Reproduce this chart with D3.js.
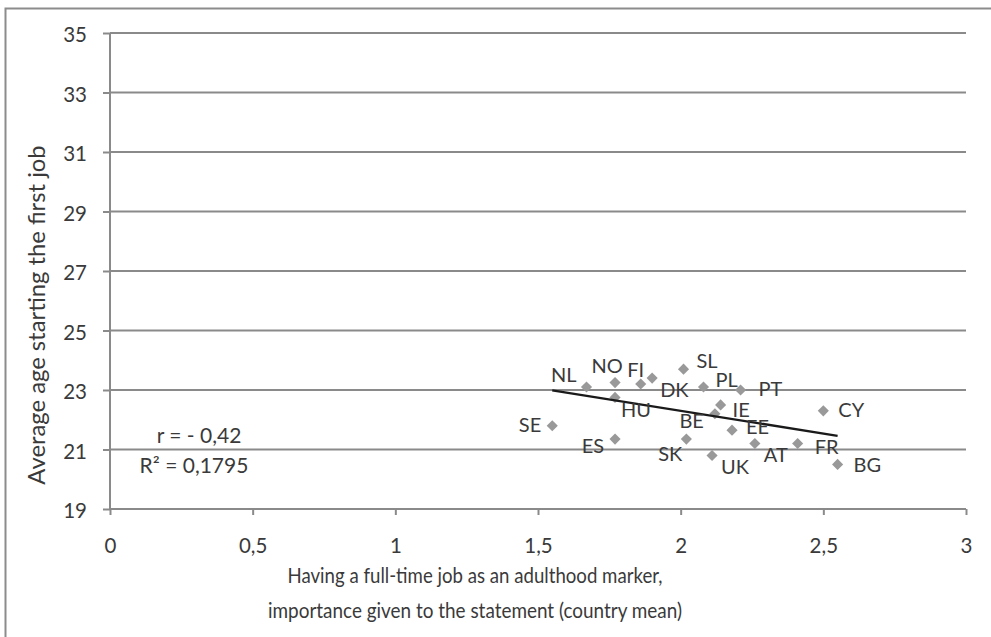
<!DOCTYPE html>
<html><head><meta charset="utf-8">
<script src="https://cdn.jsdelivr.net/npm/d3@7"></script>
<style>
html,body{margin:0;padding:0;background:#fff;}
text{font-family:Lato,"Liberation Sans",Arial,sans-serif;fill:#3a3a3a;}
</style></head>
<body>
<svg id="chart" width="991" height="637"></svg>
<script>
// ---- data ----
const countries = ["SE","ES","NL","NO","HU","FI","DK","SL","PL","IE","BE","SK","UK","PT","EE","AT","FR","CY","BG"];
const xValues   = [1.55,1.77,1.67,1.77,1.77,1.86,1.90,2.01,2.08,2.14,2.12,2.02,2.11,2.21,2.18,2.26,2.41,2.50,2.55];
const yValues   = [21.8,21.35,23.1,23.25,22.75,23.2,23.4,23.7,23.1,22.5,22.2,21.35,20.8,23.0,21.65,21.2,21.2,22.3,20.5];
const xTicks = [0,0.5,1,1.5,2,2.5,3];
const yTicks = [19,21,23,25,27,29,31,33,35];
const xTitle = ["Having a full-time job as an adulthood marker,","importance given to the statement (country mean)"];
const yTitle = "Average age starting the first job";
const statsText = ["r = - 0,42","R² = 0,1795"];

// label placement (presentation only): [dx, dy, anchor]
const labelPlacement = {
  SE:[-11,6,"end"], ES:[-11,14,"end"], NL:[-10,-5,"end"], NO:[-8,-10,"middle"],
  HU:[6,20,"start"], FI:[-5,-7,"middle"], DK:[8,19,"start"], SL:[13,-1,"start"],
  PL:[12,0,"start"], IE:[12,12,"start"], BE:[-11,14,"end"], SK:[-4,22,"end"],
  UK:[9,19,"start"], PT:[18,6,"start"], EE:[14,4,"start"], AT:[9,18,"start"],
  FR:[17,10,"start"], CY:[15,6,"start"], BG:[16,8,"start"]
};

const svg = d3.select("#chart");
const m = {left:110, right:25, top:33, bottom:128};
const W = 991, H = 637;
const x = d3.scaleLinear().domain([0,3]).range([m.left, W - m.right]);
const y = d3.scaleLinear().domain([19,35]).range([H - m.bottom, m.top]);
const FONT = "Lato,'Liberation Sans',Arial,sans-serif";

// outer frame
svg.append("path").attr("d", `M5.5,637 V8.5 H991`).attr("fill","none").attr("stroke","#8c8c8c").attr("stroke-width",2);

// gridlines
svg.append("g").selectAll("line").data(yTicks.slice(1)).join("line")
  .attr("x1", x(0)).attr("x2", x(3)).attr("y1", d=>y(d)).attr("y2", d=>y(d))
  .attr("stroke","#8a8a8a").attr("stroke-width",2);

// axes
const fmt = d => String(d).replace(".", ",");
const xAxis = svg.append("g").attr("transform",`translate(0,${y(19)})`)
  .call(d3.axisBottom(x).tickValues(xTicks).tickFormat(fmt).tickSize(6).tickPadding(23));
const yAxis = svg.append("g").attr("transform",`translate(${x(0)},0)`)
  .call(d3.axisLeft(y).tickValues(yTicks).tickSize(7).tickPadding(16));
[xAxis,yAxis].forEach(a=>{
  a.select(".domain").attr("stroke","#8a8a8a").attr("stroke-width",2);
  a.selectAll(".tick line").attr("stroke","#8a8a8a").attr("stroke-width",2);
  a.selectAll(".tick text").style("font-size","20.5px").attr("fill","#3a3a3a")
   .style("font-family",FONT);
});
yAxis.selectAll(".tick text").attr("dy","0.42em");
yAxis.select(".domain").attr("d", `M0,${y(19)}V${y(35)}`);
xAxis.select(".domain").attr("d", `M${x(0)},0H${x(3)}`);

// points (diamonds = squares rotated 45deg)
const pts = countries.map((c,i)=>({c, x:xValues[i], y:yValues[i]}));
const sym = d3.symbol().type(d3.symbolSquare).size(62);
svg.append("g").selectAll("path").data(pts).join("path")
  .attr("d", sym).attr("transform", d=>`translate(${x(d.x)},${y(d.y)}) rotate(45)`)
  .attr("fill","#999999");

// trendline (least squares)
const mx = d3.mean(xValues), my = d3.mean(yValues);
const slope = d3.sum(xValues.map((v,i)=>(v-mx)*(yValues[i]-my))) / d3.sum(xValues.map(v=>(v-mx)*(v-mx)));
const icpt = my - slope*mx;
const [x0,x1] = d3.extent(xValues);
svg.append("line").attr("x1",x(x0)).attr("x2",x(x1)).attr("y1",y(icpt+slope*x0)).attr("y2",y(icpt+slope*x1))
  .attr("stroke","#1a1a1a").attr("stroke-width",2.4);

// labels
svg.append("g").selectAll("text").data(pts).join("text")
  .attr("x", d=>x(d.x)+labelPlacement[d.c][0])
  .attr("y", d=>y(d.y)+labelPlacement[d.c][1])
  .attr("text-anchor", d=>labelPlacement[d.c][2])
  .style("font-size","20px").text(d=>d.c);

// stats text
svg.append("text").attr("x",199).attr("y",443).attr("text-anchor","middle").style("font-size","21px").text(statsText[0]);
svg.append("text").attr("x",194).attr("y",473).attr("text-anchor","middle").style("font-size","21px").text(statsText[1]);

// axis titles
const titleWidths = [375, 414];
svg.append("g").selectAll("text").data(xTitle).join("text")
  .attr("x",(d,i)=>475 - titleWidths[i]/2).attr("y",(d,i)=>583+i*35)
  .attr("textLength",(d,i)=>titleWidths[i]).attr("lengthAdjust","spacingAndGlyphs")
  .style("font-size","21px").text(d=>d);
svg.append("text").attr("transform",`translate(45,315) rotate(-90)`)
  .attr("text-anchor","middle").style("font-size","23.8px").text(yTitle);
</script>
</body></html>
